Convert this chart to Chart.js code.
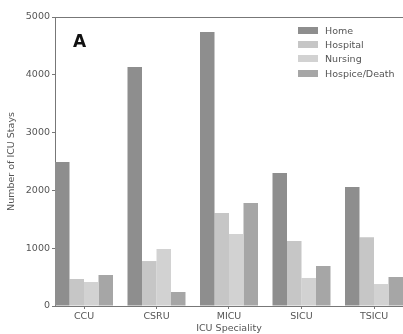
<!DOCTYPE html>
<html>
<head>
<meta charset="utf-8">
<script src="https://cdn.jsdelivr.net/npm/chart.js@4"></script>
<style>
  html, body { margin: 0; padding: 0; background: #fff; }
  #wrap { position: relative; width: 403px; height: 334px; }
  #panel { position: absolute; left: 73px; top: 33px; font: bold 17px "DejaVu Sans", sans-serif; line-height: 1; color: #111; }
  #legend { position: absolute; left: 298px; top: 23px; font: 9.5px "DejaVu Sans", sans-serif; color: #555; }
  #legend div { display: flex; align-items: center; height: 14.3px; }
  #legend span.sw { display: inline-block; width: 20px; height: 7px; margin-right: 7px; }
</style>
</head>
<body>
<div id="wrap">
  <canvas id="c" width="403" height="334"></canvas>
  <div id="panel">A</div>
  <div id="legend"></div>
</div>
<script>
const categories = ["CCU", "CSRU", "MICU", "SICU", "TSICU"];
const seriesNames = ["Home", "Hospital", "Nursing", "Hospice/Death"];
const home     = [2490, 4135, 4740, 2300, 2060];
const hospital = [467, 778, 1610, 1125, 1190];
const nursing  = [415, 986, 1245, 485, 380];
const hospice  = [536, 242, 1782, 692, 502];
const yTicks = [0, 1000, 2000, 3000, 4000, 5000];
const colors = ["#8e8e8e", "#c6c6c6", "#d2d2d2", "#a6a6a6"];

const seriesValues = [home, hospital, nursing, hospice];
const datasets = seriesNames.map((name, i) => ({
  label: name,
  data: seriesValues[i].map((v, k) => ({ x: k, y: v })),
  backgroundColor: colors[i],
  borderWidth: 0,
  categoryPercentage: 0.8,
  barPercentage: 1.0
}));

const leg = document.getElementById('legend');
seriesNames.forEach((n, i) => {
  const d = document.createElement('div');
  d.innerHTML = '<span class="sw" style="background:' + colors[i] + '"></span>' + n;
  leg.appendChild(d);
});

const tickFont = { family: "DejaVu Sans", size: 9.5 };
new Chart(document.getElementById('c'), {
  type: 'bar',
  data: { datasets },
  options: {
    responsive: false,
    animation: false,
    layout: { padding: 0 },
    plugins: { legend: { display: false }, tooltip: { enabled: false } },
    scales: {
      x: {
        type: 'linear',
        position: 'bottom',
        offset: false,
        min: -0.4,
        max: 4.4,
        afterBuildTicks: (s) => { s.ticks = categories.map((c, k) => ({ value: k })); },
        afterFit: (s) => { s.height = 28; },
        ticks: {
          callback: (v) => categories[v] ?? '',
          color: '#555', font: tickFont, padding: 2, maxRotation: 0, autoSkip: false
        },
        grid: { display: true, drawOnChartArea: false, tickLength: 3, color: '#777', offset: false },
        border: { display: true, color: '#777', width: 1 },
        title: { display: true, text: 'ICU Speciality', color: '#555', font: tickFont, padding: { top: 0, bottom: 0 } }
      },
      x2: {
        type: 'linear',
        position: 'top',
        offset: false,
        min: -0.4,
        max: 4.4,
        afterFit: (s) => { s.height = 17; },
        ticks: { display: false },
        grid: { display: false },
        border: { display: true, color: '#777', width: 1 }
      },
      y: {
        min: 0,
        max: 5000,
        afterBuildTicks: (s) => { s.ticks = yTicks.map(v => ({ value: v })); },
        afterFit: (s) => { s.width = 55; },
        ticks: { color: '#555', font: tickFont, padding: 2, callback: (v) => String(v) },
        grid: { display: true, drawOnChartArea: false, tickLength: 3, color: '#777' },
        border: { display: true, color: '#777', width: 1 },
        title: { display: true, text: 'Number of ICU Stays', color: '#555', font: tickFont, padding: { top: 6, bottom: 0 } }
      }
    }
  }
});
</script>
</body>
</html>
